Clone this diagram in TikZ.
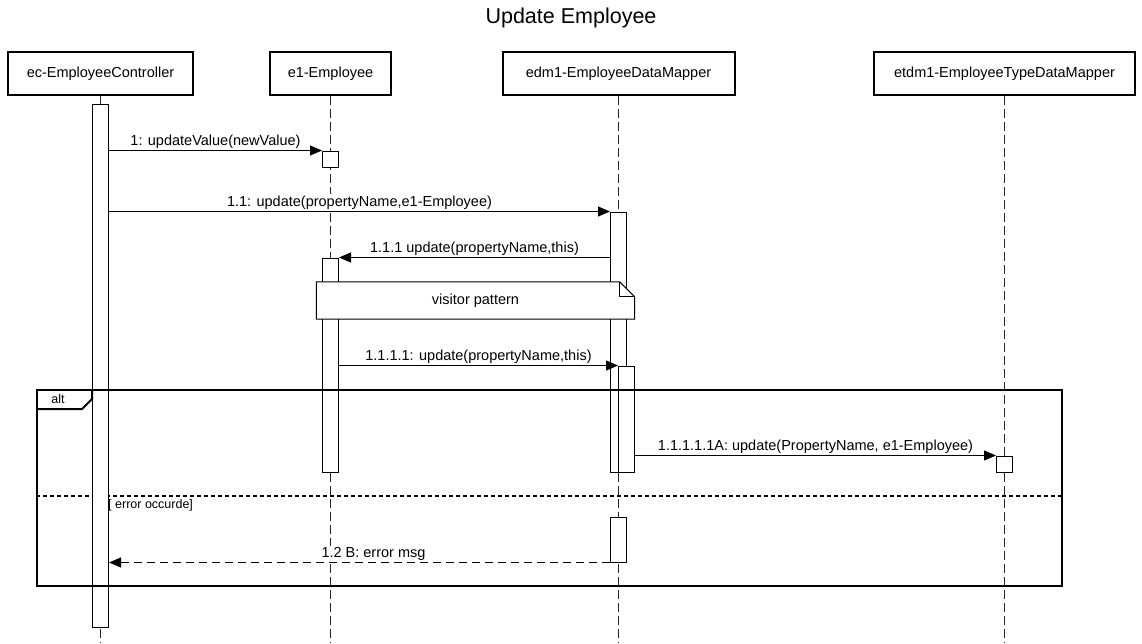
\documentclass[tikz,border=0pt]{standalone}
\usepackage{fontspec}
\setmainfont{Liberation Sans}
\usetikzlibrary{arrows.meta,calc}
\begin{document}
\begin{tikzpicture}[x=1pt,y=-1pt,
  every node/.style={font=\fontsize{14.5}{17}\selectfont},
  head/.style={draw, line width=2pt, minimum height=43pt, inner sep=0pt},
  life/.style={line width=1pt, draw=black!85, dash pattern=on 9pt off 4pt},
  act/.style={draw, fill=white, line width=1pt, minimum width=16pt, inner sep=0pt, anchor=north},
  msg/.style={line width=1pt, -{Triangle[length=12pt,width=10pt]}},
  ret/.style={msg, dash pattern=on 8pt off 5pt},
  lbl/.style={midway, above, inner sep=1.5pt, fill=white},
  frm/.style={line width=2pt},
  small/.style={font=\fontsize{12.5}{14}\selectfont}
]
\useasboundingbox (0,0) rectangle (1142,643);
\node[font=\fontsize{21.5}{24}\selectfont] (title) at (571,18) {Update Employee};

\node[head, minimum width=185pt] (ec) at (100.5,73.5) {ec-EmployeeController};
\node[head, minimum width=121pt] (e1) at (330.5,73.5) {e1-Employee};
\node[head, minimum width=232pt] (edm) at (618.5,73.5) {edm1-EmployeeDataMapper};
\node[head, minimum width=261pt] (etdm) at (1004.5,73.5) {etdm1-EmployeeTypeDataMapper};

\coordinate (bot) at (0,643);
\draw[life] (ec.south) -- (ec.south |- bot);
\draw[life] (e1.south) -- (e1.south |- bot);
\draw[life] (edm.south) -- (edm.south |- bot);
\draw[life] (etdm.south) -- (etdm.south |- bot);

% alt frame separator
\coordinate (sepL) at (36,496);
\coordinate (sepR) at (1061,496);
\draw[line width=2pt, dash pattern=on 4pt off 3pt] (sepL) -- (sepR);

% activations
\node[act, minimum height=523pt] (ecA) at (100.5,103.5) {};
\node[act, minimum height=16pt] (e1A) at (330.5,150.5) {};
\node[act, minimum height=260pt] (edmA) at (618.5,211.5) {};
\node[act, minimum height=214pt] (e1B) at (330.5,257.5) {};
\node[act, minimum height=106pt] (edmB) at (626.5,365.5) {};
\node[act, minimum height=16pt] (etdmA) at (1004.5,455.5) {};
\node[act, minimum height=45pt] (edmC) at (618.5,516.5) {};

% note
\path node[minimum width=318pt, minimum height=37pt, inner sep=0pt] (note) at (475.5,300.5) {};
\filldraw[fill=white, line width=1pt] (note.north west) -- ([xshift=-15pt]note.north east) -- ([yshift=-15pt]note.north east) -- (note.south east) -- (note.south west) -- cycle;
\draw[line width=1pt] ([xshift=-15pt]note.north east) -- ([xshift=-15pt,yshift=-15pt]note.north east) -- ([yshift=-15pt]note.north east);
\node (notetext) at (note.center) {visitor pattern};

% messages
\draw[msg] (ecA.east |- e1A.north) -- node[lbl]{1: updateValue(newValue)} (e1A.north west);
\draw[msg] (ecA.east |- edmA.north) -- node[lbl]{1.1: update(propertyName,e1-Employee)} (edmA.north west);
\draw[msg] (edmA.west |- e1B.north) -- node[lbl]{1.1.1 update(propertyName,this)} (e1B.north east);
\draw[msg] (e1B.east |- edmB.north) -- node[lbl]{1.1.1.1: update(propertyName,this)} (edmB.north west);
\draw[msg] (edmB.east |- etdmA.north) -- node[lbl]{1.1.1.1.1A: update(PropertyName, e1-Employee)} (etdmA.north west);
\draw[ret] (edmC.south west) -- node[lbl, xshift=14pt]{1.2 B: error msg} (ecA.east |- edmC.south);

% alt frame
\node[draw, frm, minimum width=1025pt, minimum height=196pt, anchor=north west, inner sep=0pt] (alt) at (36,389) {};
\draw[frm] ([yshift=-20pt]alt.north west) -- ++(46,0) -- ++(10,-10) -- ++(0,-10);
\node[small] (altlbl) at (58,399) {alt};
\node[small, anchor=west, inner sep=0pt] (guard) at (108,505) {[ error occurde]};
\end{tikzpicture}
\end{document}
